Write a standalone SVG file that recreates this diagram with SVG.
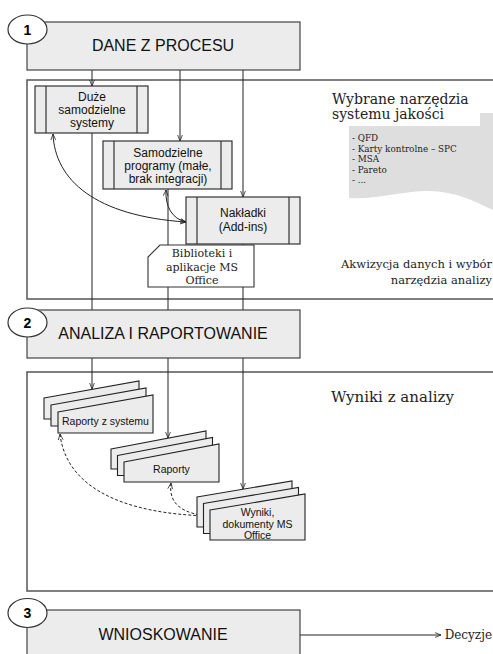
<svg xmlns="http://www.w3.org/2000/svg" width="493" height="654" viewBox="0 0 493 654">
<defs>
<marker id="ah" viewBox="0 0 10 10" refX="10" refY="5" markerWidth="6" markerHeight="6" orient="auto-start-reverse" markerUnits="userSpaceOnUse">
<path d="M0,1 L10,5 L0,9" fill="none" stroke="#222" stroke-width="1.3"/>
</marker>
</defs>
<style>
.panel{fill:#fff;stroke:#555;stroke-width:1.5}
.hdr{fill:#ececec;stroke:#444;stroke-width:1.2}
.num{fill:#fff;stroke:#333;stroke-width:1.2}
.numt{font-family:"Liberation Sans",Arial,sans-serif;font-weight:bold;font-size:14px;fill:#000;text-anchor:middle}
.ht{font-family:"Liberation Sans",Arial,sans-serif;font-size:16px;fill:#111;text-anchor:middle}
.box{fill:#ececec;stroke:#333;stroke-width:1.2}
.bl{stroke:#333;stroke-width:1.2;fill:none}
.bt{font-family:"Liberation Sans",Arial,sans-serif;font-size:12px;fill:#111;text-anchor:middle}
.st{font-family:"Liberation Sans",Arial,sans-serif;font-size:10.5px;fill:#111;text-anchor:middle}
.sh{fill:#ececec;stroke:#222;stroke-width:1.1}
.ser{font-family:"DejaVu Serif","Liberation Serif",serif;fill:#222}
.c{fill:none;stroke:#222;stroke-width:1}
.d{fill:none;stroke:#222;stroke-width:1;stroke-dasharray:3,2}
</style>

<!-- panels -->
<rect class="panel" x="27" y="80" width="470" height="219"/>
<rect class="panel" x="27" y="372" width="470" height="219"/>

<g id="connectors">
<line class="c" x1="92" y1="70" x2="92" y2="86" marker-end="url(#ah)"/>
<line class="c" x1="180" y1="70" x2="180" y2="141" marker-end="url(#ah)"/>
<line class="c" x1="243" y1="70" x2="243" y2="197" marker-end="url(#ah)"/>
<line class="c" x1="92" y1="133" x2="92" y2="389" marker-end="url(#ah)"/>
<line class="c" x1="168" y1="189" x2="168" y2="438" marker-end="url(#ah)"/>
<line class="c" x1="243" y1="244" x2="243" y2="489" marker-end="url(#ah)"/>
<path class="c" d="M53,134 C55,180 95,216 186,222" marker-start="url(#ah)" marker-end="url(#ah)"/>
<path class="c" d="M166,190 C165,206 172,219 186,222" marker-start="url(#ah)" marker-end="url(#ah)"/>
<path class="d" d="M60,434 C66,486 120,514 210,516" marker-start="url(#ah)" marker-end="url(#ah)"/>
<path class="d" d="M171,483 C168,505 184,514 209,516" marker-start="url(#ah)" marker-end="url(#ah)"/>
<line class="c" x1="300" y1="635" x2="441" y2="635" marker-end="url(#ah)"/>
</g>

<g id="h1">
<rect class="hdr" x="27" y="22" width="273" height="48"/>
<ellipse class="num" cx="27.5" cy="29.5" rx="19.5" ry="14.5"/>
<text class="numt" x="27.5" y="34.5">1</text>
<text class="ht" x="163" y="51">DANE Z PROCESU</text>
</g>

<g id="h2">
<rect class="hdr" x="27" y="310" width="273" height="48"/>
<ellipse class="num" cx="27.5" cy="322.5" rx="19.5" ry="14.5"/>
<text class="numt" x="27.5" y="327.5">2</text>
<text class="ht" x="163" y="339">ANALIZA I RAPORTOWANIE</text>
</g>

<g id="h3">
<rect class="hdr" x="27" y="610" width="273" height="60"/>
<ellipse class="num" cx="27.5" cy="613" rx="19.5" ry="14.5"/>
<text class="numt" x="27.5" y="618">3</text>
<text class="ht" x="163" y="640">WNIOSKOWANIE</text>
</g>

<g id="duze">
<rect class="box" x="35" y="86" width="113" height="47"/>
<line class="bl" x1="46" y1="86" x2="46" y2="133"/>
<line class="bl" x1="137" y1="86" x2="137" y2="133"/>
<text class="bt" x="92" y="101">Duże</text>
<text class="bt" x="92" y="114">samodzielne</text>
<text class="bt" x="92" y="127">systemy</text>
</g>

<g id="samodzielne">
<rect class="box" x="103" y="141" width="129" height="48"/>
<line class="bl" x1="114" y1="141" x2="114" y2="189"/>
<line class="bl" x1="221" y1="141" x2="221" y2="189"/>
<text class="bt" x="168" y="157">Samodzielne</text>
<text class="bt" x="168" y="170">programy (małe,</text>
<text class="bt" x="168" y="183">brak integracji)</text>
</g>

<g id="biblioteki">
<polygon points="160,245 254,245 254,287 148,287 148,257" fill="#fff" stroke="#333" stroke-width="1.1"/>
<text class="ser" font-size="11" text-anchor="middle" x="202" y="257">Biblioteki i</text>
<text class="ser" font-size="11" text-anchor="middle" x="202" y="271">aplikacje MS</text>
<text class="ser" font-size="11" text-anchor="middle" x="202" y="284">Office</text>
</g>

<g id="naklad">
<rect class="box" x="186" y="197" width="114" height="47"/>
<line class="bl" x1="197" y1="197" x2="197" y2="244"/>
<line class="bl" x1="289" y1="197" x2="289" y2="244"/>
<text class="bt" x="243" y="217">Nakładki</text>
<text class="bt" x="243" y="231">(Add-ins)</text>
</g>

<g id="tools">
<text class="ser" font-size="14" x="332" y="104">Wybrane narzędzia</text>
<text class="ser" font-size="14" x="332" y="119">systemu jakości</text>
<path d="M349,126 H480 V113 H493 V210 C472,200 452,190 425,191 C398,192 372,200 349,198 Z" fill="#dedede"/>
<g class="ser" font-size="8.8">
<text x="352" y="141">- QFD</text>
<text x="352" y="151.5">- Karty kontrolne – SPC</text>
<text x="352" y="162">- MSA</text>
<text x="352" y="172.5">- Pareto</text>
<text x="352" y="183">- ...</text>
</g>
<text class="ser" font-size="11.5" text-anchor="end" x="492" y="268">Akwizycja danych i wybór</text>
<text class="ser" font-size="11.5" text-anchor="end" x="492" y="284">narzędzia analizy</text>
</g>

<text class="ser" font-size="15" x="331" y="402">Wyniki z analizy</text>

<g id="raporty-sys">
<polygon class="sh" points="44,398 139,381 139,419 44,419"/>
<polygon class="sh" points="51,405 146,388 146,426 51,426"/>
<polygon class="sh" points="58,412 153,395 153,433 58,433"/>
<text class="st" x="105.5" y="425">Raporty z systemu</text>
</g>

<g id="raporty">
<polygon class="sh" points="111,449 206,431 206,469 111,469"/>
<polygon class="sh" points="117.5,455.5 212.5,437.5 212.5,475.5 117.5,475.5"/>
<polygon class="sh" points="124,462 219,444 219,482 124,482"/>
<text class="st" x="171.5" y="473">Raporty</text>
</g>

<g id="wyniki">
<polygon class="sh" points="197,497 292,481 292,527 197,527"/>
<polygon class="sh" points="203.5,503.5 298.5,487.5 298.5,533.5 203.5,533.5"/>
<polygon class="sh" points="210,510 305,494 305,540 210,540"/>
<text class="st" font-size="11" x="257.5" y="516">Wyniki,</text>
<text class="st" font-size="11" x="257.5" y="527.5">dokumenty MS</text>
<text class="st" font-size="11" x="257.5" y="539">Office</text>
</g>

<text class="ser" font-size="12" text-anchor="end" x="492" y="639">Decyzje</text>
</svg>
